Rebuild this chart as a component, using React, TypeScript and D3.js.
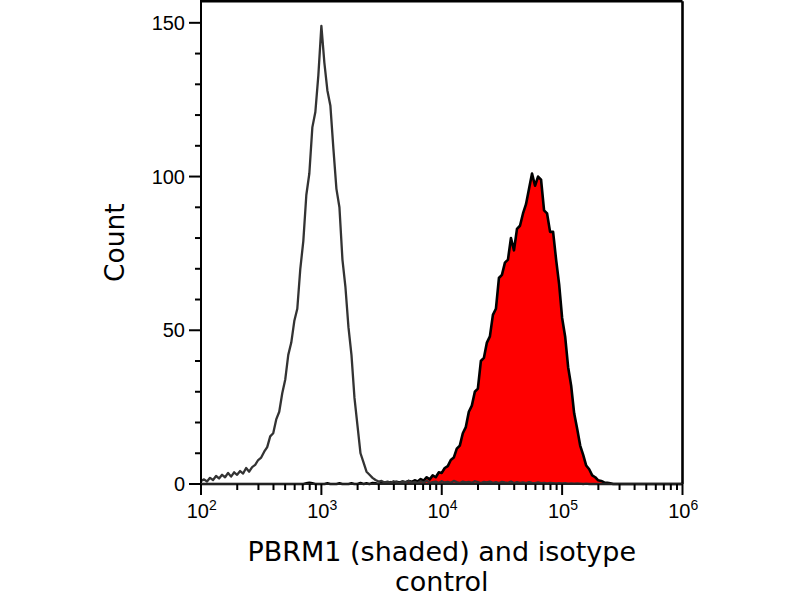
import React from "react";
import * as d3 from "d3";

// histogram channels: log10 position = binStart + i * binStep
const binStart = 2;
const binStep = 0.025;

const isoCounts = [
  1, 1.5, 0.8, 2, 1.3, 2.6, 1.8, 3, 2.2, 3.6,
  2.4, 3.8, 3, 4.2, 3.4, 5.2, 4, 5.5, 6.2, 7.8,
  8.6, 10.5, 12, 15.5, 16.5, 21, 23.5, 29.5, 34, 42,
  46, 53, 57, 70, 79, 94, 101, 116, 121, 133,
  149, 137, 128, 123, 109, 96, 90, 73, 64, 51,
  42, 28, 19, 10, 7, 4, 3, 2, 1.3, 0.8,
  1, 0.5, 0.8, 0.4, 0.9, 0.6, 0.3, 0.8, 0.5, 1,
  0.4, 0.7, 0.3, 0.9, 0.5, 1.1, 0.4, 0.6, 0.8, 0.3,
  0.9, 0.5, 0.7, 0.4, 1, 0.6, 0.3, 0.8, 0.5, 0.7,
  0.4, 0.9, 0.6, 0.3, 0.7, 0.5, 0.8, 0.4, 0.6, 0.3,
  0.7, 0.5, 0.4, 0.8, 0.3, 0.6, 0.4, 0.5, 0.3, 0.6,
  0.4, 0.3, 0.5, 0.3, 0.4, 0.2, 0.4, 0.3, 0.2, 0.3,
  0.2, 0.3, 0.1, 0.2, 0.1, 0.2, 0.1, 0, 0.1, 0,
  0, 0, 0, 0, 0, 0, 0, 0, 0, 0,
  0, 0, 0, 0, 0, 0, 0, 0, 0, 0,
  0, 0, 0, 0, 0, 0, 0, 0, 0, 0,
  0,
];

const pbrm1Counts = [
  0, 0, 0, 0, 0, 0, 0, 0, 0, 0,
  0, 0, 0, 0, 0, 0, 0, 0, 0, 0,
  0, 0, 0, 0, 0, 0, 0, 0, 0, 0,
  0, 0, 0, 0, 0, 0.2, 0.4, 0.2, 0, 0,
  0, 0, 0.2, 0, 0, 0, 0.2, 0, 0, 0,
  0.2, 0, 0, 0.3, 0, 0.2, 0, 0.3, 0.2, 0,
  0.3, 0.5, 0.3, 0.6, 0.4, 0.7, 0.5, 0.8, 0.6, 1,
  0.7, 1.2, 0.8, 1.6, 1.1, 2.2, 1.5, 2.8, 2.2, 3.8,
  3.6, 5.2, 5.8, 7.8, 8.6, 11.5, 12.5, 16.5, 18.5, 23.5,
  25.5, 30, 31, 40, 41, 46, 48, 55, 57, 67,
  68, 72, 73, 80, 76, 83, 84, 88, 91, 96,
  101, 97, 100, 99, 89, 88, 82, 82, 73, 65,
  54, 48, 38, 32, 23, 18, 12.5, 9.5, 6, 4.8,
  2.8, 2.2, 1.2, 1, 0.5, 0.4, 0.2, 0, 0, 0,
  0, 0, 0, 0, 0, 0, 0, 0, 0, 0,
  0, 0, 0, 0, 0, 0, 0, 0, 0, 0,
  0,
];

const yTickValues = [0, 50, 100, 150];
const yMinorValues = [10, 20, 30, 40, 60, 70, 80, 90, 110, 120, 130, 140];
const xDecades = [2, 3, 4, 5, 6];
const xTitleLines = ["PBRM1 (shaded) and isotype", "control"];
const yTitle = "Count";

export default function App() {
  const left = 201, right = 682.5, top = 1.3, bottom = 484;
  const x = d3.scaleLog().domain([1e2, 1e6]).range([left, right]);
  const y = d3.scaleLinear().domain([0, 157]).range([bottom, top]);

  const toPts = (arr: number[]) =>
    arr.map((v, i) => ({ xv: Math.pow(10, binStart + i * binStep), v }));

  const redPts = toPts(pbrm1Counts);
  const isoPts = toPts(isoCounts);

  const area = d3
    .area<{ xv: number; v: number }>()
    .x((d) => x(d.xv))
    .y0(y(0))
    .y1((d) => y(d.v));
  const line = d3
    .line<{ xv: number; v: number }>()
    .x((d) => x(d.xv))
    .y((d) => y(d.v));

  const minorX: number[] = [];
  for (let k = 2; k < 6; k++) {
    for (let m = 2; m <= 9; m++) minorX.push(m * Math.pow(10, k));
  }

  const tickFont = "'Liberation Sans', Arial, sans-serif";
  const titleFont = "'DejaVu Sans', Verdana, sans-serif";
  const cx = (left + right) / 2;

  return (
    <div style={{ position: "fixed", left: 0, top: 0, width: 800, height: 600, background: "#fff" }}>
      <svg width={800} height={600} viewBox="0 0 800 600">
        <rect x={0} y={0} width={800} height={600} fill="#fff" />
        {/* PBRM1 filled histogram */}
        <path d={area(redPts) || ""} fill="#ff0000" stroke="none" />
        <path d={line(redPts) || ""} fill="none" stroke="#000" strokeWidth={2.6} strokeLinejoin="round" />
        {/* isotype control */}
        <path d={line(isoPts) || ""} fill="none" stroke="#333" strokeWidth={2.3} strokeLinejoin="round" />

        {/* frame */}
        <line x1={left} y1={top} x2={right} y2={top} stroke="#000" strokeWidth={2.6} />
        <line x1={right} y1={top} x2={right} y2={bottom} stroke="#000" strokeWidth={2.6} />
        <line x1={left} y1={0} x2={left} y2={bottom} stroke="#000" strokeWidth={2} />
        <line x1={left} y1={bottom} x2={right} y2={bottom} stroke="#222" strokeWidth={2} />

        {/* y ticks */}
        {yMinorValues.map((v) => (
          <line key={"ym" + v} x1={left - 6} x2={left} y1={y(v)} y2={y(v)} stroke="#000" strokeWidth={2} />
        ))}
        {yTickValues.map((v) => (
          <g key={"y" + v}>
            <line x1={left - 12} x2={left} y1={y(v)} y2={y(v)} stroke="#000" strokeWidth={2} />
            <text
              x={left - 16}
              y={y(v)}
              dy="0.36em"
              textAnchor="end"
              fontFamily={tickFont}
              fontSize={20}
              fill="#000"
            >
              {v}
            </text>
          </g>
        ))}

        {/* x ticks */}
        {minorX.map((v) => (
          <line key={"xm" + v} x1={x(v)} x2={x(v)} y1={bottom} y2={bottom + 6} stroke="#000" strokeWidth={2} />
        ))}
        {xDecades.map((k) => {
          const px = x(Math.pow(10, k));
          return (
            <g key={"x" + k}>
              <line x1={px} x2={px} y1={bottom} y2={bottom + 11} stroke="#000" strokeWidth={2} />
              <text x={px + 8} y={518} textAnchor="end" fontFamily={tickFont} fontSize={20} fill="#000">
                10
              </text>
              <text x={px + 8} y={510} textAnchor="start" fontFamily={tickFont} fontSize={14} fill="#000">
                {k}
              </text>
            </g>
          );
        })}

        {/* axis titles */}
        {xTitleLines.map((t, i) => (
          <text
            key={t}
            x={cx}
            y={561 + i * 30}
            textAnchor="middle"
            fontFamily={titleFont}
            fontSize={27}
            fill="#000"
          >
            {t}
          </text>
        ))}
        <text
          transform={`translate(124, ${(top + bottom) / 2}) rotate(-90)`}
          textAnchor="middle"
          fontFamily={titleFont}
          fontSize={26.5}
          fill="#000"
        >
          {yTitle}
        </text>
      </svg>
    </div>
  );
}
